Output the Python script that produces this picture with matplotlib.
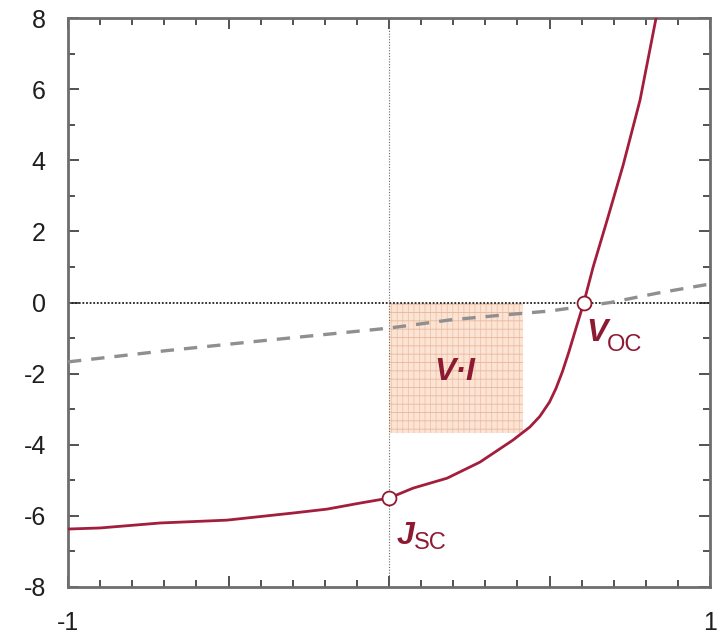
import matplotlib
matplotlib.use("Agg")
import matplotlib.pyplot as plt
from matplotlib.patches import Rectangle
from matplotlib.ticker import MultipleLocator, FixedLocator

plt.rcParams['font.family'] = ['Liberation Sans', 'DejaVu Sans']
plt.rcParams['axes.unicode_minus'] = False
plt.rcParams['hatch.linewidth'] = 0.6

# Illuminated J-V curve of the cell
voltage = [-1.0, -0.9, -0.713, -0.505, -0.299, -0.193, -0.09, 0.0, 0.075, 0.181,
           0.283, 0.386, 0.439, 0.47, 0.50, 0.52, 0.54, 0.56, 0.58, 0.607,
           0.636, 0.679, 0.729, 0.782, 0.832]
current = [-6.37, -6.34, -6.2, -6.12, -5.92, -5.81, -5.64, -5.5, -5.22, -4.94,
           -4.49, -3.87, -3.5, -3.2, -2.8, -2.42, -1.95, -1.4, -0.8, 0.0,
           1.0, 2.3, 3.85, 5.69, 8.0]

# Dark curve
dark_voltage = [-1.0, -0.7, -0.4, 0.0, 0.19, 0.346, 0.5, 0.69, 0.84, 1.0]
dark_current = [-1.67, -1.36, -1.08, -0.72, -0.49, -0.36, -0.24, 0.0, 0.27, 0.52]

# Characteristic points
v_oc = 0.607
j_sc = -5.5
v_mp = 0.417
j_mp = -3.67

x_ticks = [-1, -0.5, 0, 0.5, 1]
x_labels = ['-1', '', '', '', '1']
y_ticks = [-8, -6, -4, -2, 0, 2, 4, 6, 8]

curve_color = '#a31d3d'
label_color = '#8e1a31'

fig = plt.figure(figsize=(7.2, 6.41), dpi=100)
ax = fig.add_axes([68 / 720, 54 / 641, 642 / 720, 569 / 641])

ax.set_xlim(-1, 1)
ax.set_ylim(-8, 8)

# Power rectangle
ax.add_patch(Rectangle((0, j_mp), v_mp, -j_mp, facecolor='#fce4d4',
                       edgecolor='none', zorder=1))
ax.add_patch(Rectangle((0, j_mp), v_mp, -j_mp, facecolor='none',
                       edgecolor='#efc2aa', hatch='|||', linewidth=0, zorder=1.1))
ax.add_patch(Rectangle((0, j_mp), v_mp, -j_mp, facecolor='none',
                       edgecolor='#eab49a', hatch='--', linewidth=0, zorder=1.1))

# Reference lines
ax.axhline(0, color='#222222', linestyle=(0, (1, 1)), linewidth=1.3, zorder=2)
ax.axvline(0, color='#666666', linestyle=(0, (1, 1.5)), linewidth=0.8, zorder=2)

ax.plot(dark_voltage, dark_current, color='#8f8f8f', linestyle=(0, (4, 3)),
        linewidth=2.4, zorder=3)
ax.plot(voltage, current, color=curve_color, linewidth=2.0, zorder=4,
        solid_joinstyle='round')

ax.plot([0, v_oc], [j_sc, 0], linestyle='none', marker='o', markersize=10,
        markerfacecolor='white', markeredgecolor=label_color,
        markeredgewidth=1.3, zorder=5)

# Labels
ax.text(0.206, -1.95, 'V·I', color=label_color, fontsize=23, fontweight='bold',
        fontstyle='italic', ha='center', va='center', zorder=6)
ax.text(0.615, -1.08, 'V', color=label_color, fontsize=23, fontweight='bold',
        fontstyle='italic', ha='left', va='baseline', zorder=6)
ax.text(0.678, -1.36, 'OC', color=label_color, fontsize=17,
        ha='left', va='baseline', zorder=6)
ax.text(0.025, -6.78, 'J', color=label_color, fontsize=23, fontweight='bold',
        fontstyle='italic', ha='left', va='baseline', zorder=6)
ax.text(0.077, -6.92, 'SC', color=label_color, fontsize=17,
        ha='left', va='baseline', zorder=6)

# Axes styling
ax.xaxis.set_major_locator(FixedLocator(x_ticks))
ax.set_xticklabels(x_labels)
ax.xaxis.set_minor_locator(MultipleLocator(0.1))
ax.set_yticks(y_ticks)
ax.yaxis.set_minor_locator(MultipleLocator(1))

for s in ax.spines.values():
    s.set_color('#6e6e6e')
    s.set_linewidth(2.0)

ax.tick_params(which='both', direction='in', top=True, right=True,
               color='#444444', width=1.3)
ax.tick_params(which='major', length=8, labelsize=18, labelcolor='#1e1e1e')
ax.tick_params(which='minor', length=5)
ax.tick_params(axis='y', which='major', pad=16)
ax.tick_params(axis='x', which='major', pad=17)

fig.savefig('out.png', dpi=100)
